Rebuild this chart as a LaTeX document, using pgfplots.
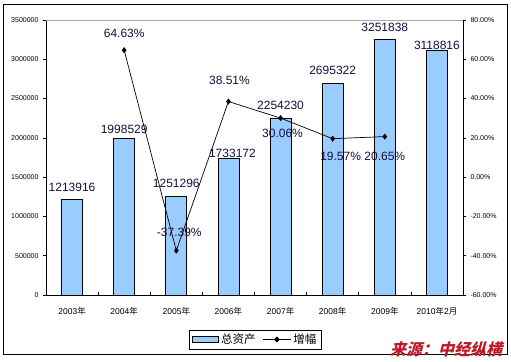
\documentclass[border=0pt]{standalone}
\usepackage{pgfplots}
\usepackage{pgfplotstable}
\pgfplotsset{compat=1.18}
\usepackage{fontspec}
\setmainfont{Liberation Sans}
\newfontfamily\cjk{Noto Sans CJK SC}
\newfontfamily\cjksrc[FakeSlant=0.25]{Noto Sans CJK SC}
\definecolor{barblue}{RGB}{153,204,255}
\definecolor{lblcol}{RGB}{25,15,60}
\definecolor{srcred}{RGB}{190,25,40}

\pgfplotstableread{
x y lab dx dy
0 1213916 1213916 0 8
1 1998529 1998529 0 4
2 1251296 1251296 0 9
3 1733172 1733172 4 1
4 2254230 2254230 0 8
5 2695322 2695322 0 8
6 3251838 3251838 0 8
7 3118816 3118816 0 0
}\bardata

\pgfplotstableread{
x y lab dx dy
1 64.63 64.63\% 0 17
2 -37.39 -37.39\% 3 18
3 38.51 38.51\% 1 21
4 30.06 30.06\% 2 -15
5 19.57 19.57\% 8 -18
6 20.65 20.65\% 0 -20
}\pctdata

\begin{document}
\begin{tikzpicture}
\useasboundingbox (0,0) rectangle (511bp,362bp);
\fill[white] (0,0) rectangle (511bp,362bp);
\draw[black, line width=0.8bp] (3bp,8bp) rectangle (507bp,358bp);

\begin{axis}[
  at={(46bp,67bp)}, anchor=south west,
  scale only axis, width=417bp, height=275bp,
  xmin=-0.5, xmax=7.5, ymin=0, ymax=3500000,
  axis x line*=bottom, axis y line*=left,
  axis line style={black, line width=0.7bp},
  clip=false,
  xtick={0,...,7},
  xticklabels={2003{\cjk 年},2004{\cjk 年},2005{\cjk 年},2006{\cjk 年},2007{\cjk 年},2008{\cjk 年},2009{\cjk 年},2010{\cjk 年}2{\cjk 月}},
  major x tick style={draw=none},
  minor xtick={0.5,1.5,...,6.5},
  minor x tick style={black, line width=0.6bp},
  minor tick length=3bp,
  xtick align=inside,
  ytick={0,500000,...,3500000},
  ytick align=outside,
  major tick length=3bp,
  y tick style={black, line width=0.6bp},
  scaled y ticks=false,
  /pgf/number format/assume math mode=true,
  yticklabel style={/pgf/number format/fixed, /pgf/number format/precision=0, /pgf/number format/1000 sep={}, font=\fontsize{7bp}{8bp}\selectfont, xshift=-1bp},
  xticklabel style={font=\fontsize{8.5bp}{9bp}\selectfont, yshift=-9bp},
]
\draw[gray!70, line width=0.7bp] (rel axis cs:0,1) -- (rel axis cs:1,1);
\addplot[ybar, bar width=21bp, fill=barblue, draw=black, line width=0.7bp,
  nodes near coords, point meta=explicit symbolic,
  visualization depends on={\thisrow{dx} \as \ldx},
  visualization depends on={\thisrow{dy} \as \ldy},
  nodes near coords style={anchor=south, inner sep=0pt, text=lblcol,
     font=\fontsize{12bp}{13bp}\selectfont, xshift=\ldx, yshift=\ldy}]
  table[x=x, y=y, meta=lab]{\bardata};
\end{axis}

\begin{axis}[
  at={(46bp,67bp)}, anchor=south west,
  scale only axis, width=417bp, height=275bp,
  xmin=-0.5, xmax=7.5, ymin=-60, ymax=80,
  axis x line=none, axis y line*=right,
  axis line style={black, line width=0.7bp},
  clip=false,
  ytick={-60,-40,...,80},
  ytick align=outside,
  major tick length=3bp,
  y tick style={black, line width=0.6bp},
  /pgf/number format/assume math mode=true,
  yticklabel={\pgfmathprintnumber[fixed,fixed zerofill,precision=2]{\tick}\%},
  yticklabel style={font=\fontsize{7bp}{8bp}\selectfont, xshift=1bp},
  legend style={at={(0.502,-0.162)}, anchor=center, draw=black, line width=0.7bp,
     font=\cjk\fontsize{11.5bp}{12bp}\selectfont, legend columns=2,
     inner xsep=3bp, inner ysep=2bp,
     /tikz/every even column/.append style={column sep=5bp}},
  legend cell align=left,
]
\addlegendimage{legend image code/.code={\draw[fill=barblue,draw=black,line width=0.7bp] (0bp,-3bp) rectangle (26bp,3bp);}}
\addlegendentry{总资产}
\addlegendimage{legend image code/.code={\draw[black,line width=0.7bp] (0bp,0bp) -- (28bp,0bp); \fill[black] (14bp,2.5bp) -- (16.5bp,0bp) -- (14bp,-2.5bp) -- (11.5bp,0bp) -- cycle;}}
\addlegendentry{增幅}
\addplot[black, line width=0.7bp, mark=diamond*, mark size=2.5bp, mark options={fill=black},
  nodes near coords, point meta=explicit symbolic,
  visualization depends on={\thisrow{dx} \as \ldx},
  visualization depends on={\thisrow{dy} \as \ldy},
  nodes near coords style={anchor=center, inner sep=0pt, text=lblcol,
     font=\fontsize{12bp}{13bp}\selectfont, xshift=\ldx, yshift=\ldy},
  forget plot]
  table[x=x, y=y, meta=lab]{\pctdata};
\end{axis}

\node[text=srcred, font=\fontsize{16bp}{18bp}\selectfont\cjksrc\bfseries, inner sep=0pt] at (446bp,12.5bp) {来源：中经纵横};
\end{tikzpicture}
\end{document}
